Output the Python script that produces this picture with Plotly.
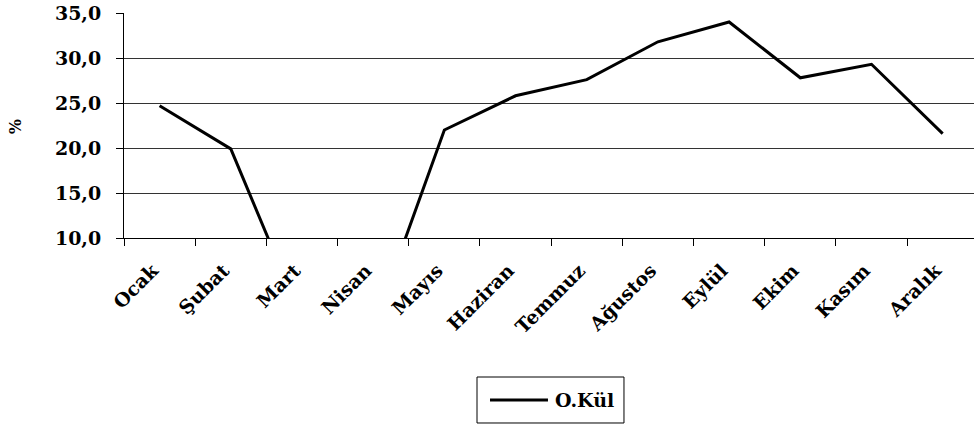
import plotly.graph_objects as go

# Monthly share (%) of O.Kül
months = ["Ocak", "Şubat", "Mart", "Nisan", "Mayıs", "Haziran",
          "Temmuz", "Ağustos", "Eylül", "Ekim", "Kasım", "Aralık"]
okul = [24.7, 19.9, 1.0, 0.0, 22.0, 25.8, 27.6, 31.8, 34.0, 27.8, 29.3, 21.6]
series_name = "O.Kül"

y_ticks = [10, 15, 20, 25, 30, 35]
y_tick_text = ["10,0", "15,0", "20,0", "25,0", "30,0", "35,0"]

FONT = "DejaVu Serif"

fig = go.Figure()
fig.add_trace(go.Scatter(
    x=months, y=okul, name=series_name, mode="lines",
    line=dict(color="black", width=3), showlegend=False,
))

# Boxed legend below the chart, with a long line sample
fig.add_shape(type="rect", xref="paper", yref="paper",
              x0=0.4153, x1=0.5882, y0=-0.8222, y1=-0.6178,
              line=dict(color="black", width=1), fillcolor="white")
fig.add_shape(type="line", xref="paper", yref="paper",
              x0=0.4306, x1=0.4988, y0=-0.72, y1=-0.72,
              line=dict(color="black", width=3))
fig.add_annotation(xref="paper", yref="paper", x=0.5047, y=-0.72,
                   xanchor="left", yanchor="middle", showarrow=False,
                   text=f"<b>{series_name}</b>",
                   font=dict(family=FONT, size=19, color="black"))

# Axis title
fig.add_annotation(xref="paper", yref="paper", x=-0.128, y=0.493,
                   xanchor="center", yanchor="middle", showarrow=False,
                   textangle=-90, text="<b>%</b>",
                   font=dict(family=FONT, size=16, color="black"))

fig.update_layout(
    width=974, height=429,
    margin=dict(l=124, r=0, t=13, b=191),
    paper_bgcolor="white", plot_bgcolor="white",
    font=dict(family=FONT, size=18, color="black"),
    xaxis=dict(
        type="category", range=[-0.5, 11.44],
        tickangle=-45, tickson="boundaries",
        ticks="outside", ticklen=7, tickcolor="black",
        ticklabelstandoff=13, ticklabelshift=-7,
        showline=True, linecolor="black", linewidth=1,
        showgrid=False,
        tickvals=months, ticktext=[f"<b>{m}</b>" for m in months],
        tickfont=dict(family=FONT, size=19, color="black"),
    ),
    yaxis=dict(
        range=[10, 35], tickvals=y_ticks,
        ticktext=[f"<b>{t}</b>" for t in y_tick_text],
        ticks="outside", ticklen=7, tickcolor="black",
        ticklabelstandoff=11,
        showline=True, linecolor="black", linewidth=1,
        showgrid=True, gridcolor="#333333", gridwidth=1,
        tickfont=dict(family=FONT, size=19, color="black"),
    ),
)

fig.write_html("out.html")
